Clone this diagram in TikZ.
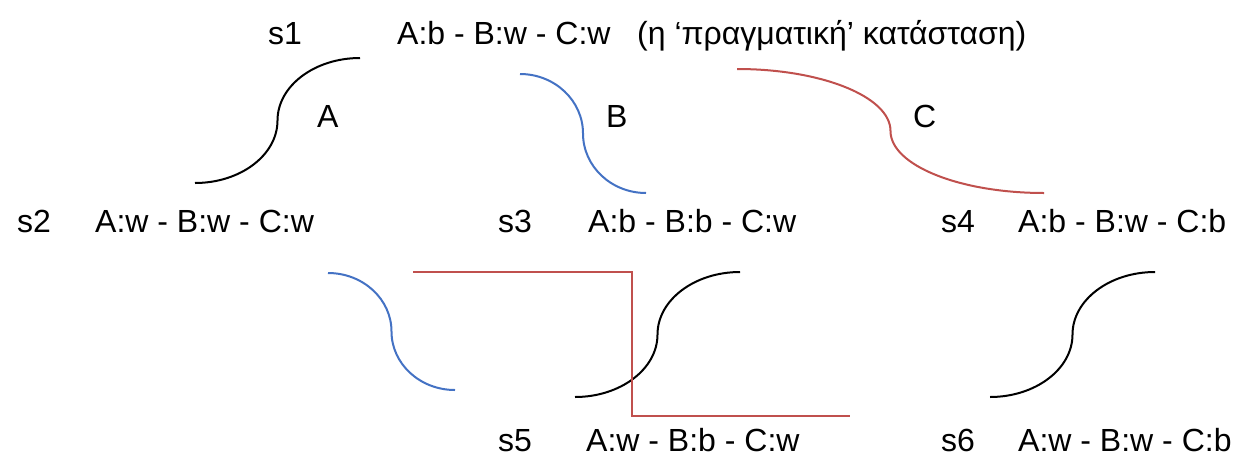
\documentclass[tikz,border=0pt]{standalone}
\usepackage{fontspec}
\setmainfont{Liberation Sans}
\definecolor{oblue}{HTML}{4472C4}
\definecolor{ored}{HTML}{C0504D}
\begin{document}
\begin{tikzpicture}[x=1pt,y=-1pt,
  lbl/.style={anchor=base west,inner sep=0pt,font=\fontsize{32}{38}\selectfont},
  conn/.style={line width=2pt},
  bl/.style={conn,black},
  bu/.style={conn,oblue},
  rd/.style={conn,ored}]
\useasboundingbox[fill=white] (0,0) rectangle (1233,469);
% state labels
\node[lbl] (s1) at (268,44) {s1};
\node[lbl] (t1) at (397,44) {A:b - B:w - C:w};
\node[lbl] (n1) at (637,44) {(η ‘πραγματική’ κατάσταση)};
\node[lbl] (s2) at (17,232) {s2};
\node[lbl] (t2) at (95,232) {A:w - B:w - C:w};
\node[lbl] (s3) at (498,232) {s3};
\node[lbl] (t3) at (588,232) {A:b - B:b - C:w};
\node[lbl] (s4) at (941,232) {s4};
\node[lbl] (t4) at (1018,232) {A:b - B:w - C:b};
\node[lbl] (s5) at (498,451) {s5};
\node[lbl] (t5) at (586,451) {A:w - B:b - C:w};
\node[lbl] (s6) at (941,451) {s6};
\node[lbl] (t6) at (1018,451) {A:w - B:w - C:b};
% action labels
\node[lbl] (la) at (317,127) {A};
\node[lbl] (lb) at (606,127) {B};
\node[lbl] (lc) at (913,127) {C};
% connector end points
\coordinate (a1) at (195,183); \coordinate (a2) at (360,58);
\coordinate (b1) at (520,74);  \coordinate (b2) at (646,193);
\coordinate (c1) at (737,69);  \coordinate (c2) at (1044,193);
\coordinate (d1) at (328,273); \coordinate (d2) at (455,390);
\coordinate (e1) at (575,397); \coordinate (e2) at (740,272);
\coordinate (f1) at (990,397); \coordinate (f2) at (1155,272);
\coordinate (g1) at (413,272); \coordinate (g2) at (850,416);
% connectors
\draw[bl] (a1) .. controls (240.5,183) and (277.5,155) .. (277.5,120.5)
               .. controls (277.5,86) and (314.5,58) .. (a2);
\draw[bu] (b1) .. controls (554.8,74) and (583,100.7) .. (583,133.5)
               .. controls (583,166.3) and (611.2,193) .. (b2);
\draw[rd] (c1) .. controls (821.7,69) and (890.5,96.8) .. (890.5,131)
               .. controls (890.5,165.2) and (959.3,193) .. (c2);
\draw[bu] (d1) .. controls (363.1,273) and (391.5,299.2) .. (391.5,331.5)
               .. controls (391.5,363.8) and (419.9,390) .. (d2);
\draw[bl] (e1) .. controls (620.5,397) and (657.5,369) .. (657.5,334.5)
               .. controls (657.5,300) and (694.5,272) .. (e2);
\draw[bl] (f1) .. controls (1035.5,397) and (1072.5,369) .. (1072.5,334.5)
               .. controls (1072.5,300) and (1109.5,272) .. (f2);
\draw[rd] (g1) -- (632,272) -- (632,416) -- (g2);
\end{tikzpicture}
\end{document}
